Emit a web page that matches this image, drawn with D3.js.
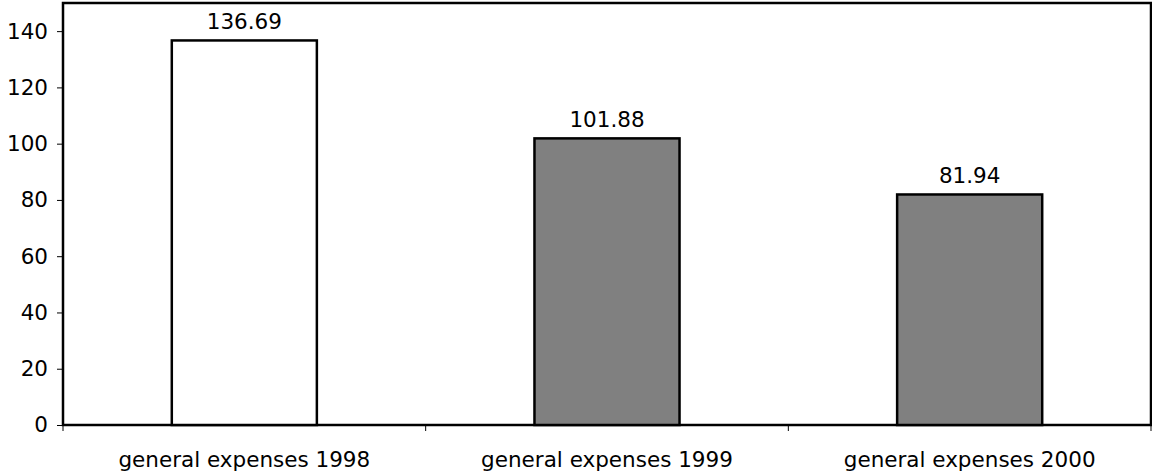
<!DOCTYPE html>
<html>
<head>
<meta charset="UTF-8">
<title>general expenses</title>
<script src="https://cdn.jsdelivr.net/npm/d3@7"></script>
<style>
  body { margin: 0; background: #fff; }
  text { font-family: "DejaVu Sans", Verdana, sans-serif; font-size: 21.5px; fill: #000; }
</style>
</head>
<body>
<div id="app"></div>
<script>
    var categories = ['general expenses 1998', 'general expenses 1999', 'general expenses 2000'];
    var values = [136.69, 101.88, 81.94];
    var fills = ['#ffffff', '#808080', '#808080'];
    var yTicks = [0, 20, 40, 60, 80, 100, 120, 140];

    var width = 1152, height = 474;
    var mLeft = 63, mRight = 1151, mTop = 3, mBottom = 425;

    var svg = d3.select('#app').append('svg')
        .attr('width', width)
        .attr('height', height);

    var x = d3.scaleBand().domain(categories).range([mLeft, mRight]).paddingInner(0.6).paddingOuter(0.3);
    var y = d3.scaleLinear().domain([0, 150]).range([mBottom, mTop]);

    // frame
    svg.append('rect')
        .attr('x', mLeft).attr('y', mTop)
        .attr('width', mRight - mLeft).attr('height', mBottom - mTop)
        .attr('fill', 'none').attr('stroke', '#000').attr('stroke-width', 2.5);

    // y axis
    var yAxis = svg.append('g')
        .attr('transform', 'translate(' + mLeft + ',0)')
        .call(d3.axisLeft(y).tickValues(yTicks).tickSize(6).tickPadding(9));
    yAxis.select('.domain').remove();
    yAxis.selectAll('text').style('font-size', '21.5px').style('font-family', '"DejaVu Sans", Verdana, sans-serif');

    // x axis ticks at category boundaries
    var bounds = [mLeft].concat(categories.map(function(c, i){
        return mLeft + (mRight - mLeft) * (i + 1) / categories.length;
    }));
    svg.selectAll('.xtick').data(bounds).enter().append('line')
        .attr('x1', function(d){ return d; }).attr('x2', function(d){ return d; })
        .attr('y1', mBottom).attr('y2', mBottom + 6)
        .attr('stroke', '#000').attr('stroke-width', 1);

    svg.selectAll('.xlab').data(categories).enter().append('text')
        .attr('x', function(d){ return x(d) + x.bandwidth() / 2; })
        .attr('y', 467)
        .attr('text-anchor', 'middle')
        .text(function(d){ return d; });

    // bars
    svg.selectAll('.bar').data(values).enter().append('rect')
        .attr('x', function(d, i){ return x(categories[i]); })
        .attr('y', function(d){ return y(d); })
        .attr('width', x.bandwidth())
        .attr('height', function(d){ return mBottom - y(d); })
        .attr('fill', function(d, i){ return fills[i]; })
        .attr('stroke', '#000').attr('stroke-width', 2.5);

    svg.selectAll('.val').data(values).enter().append('text')
        .attr('x', function(d, i){ return x(categories[i]) + x.bandwidth() / 2; })
        .attr('y', function(d){ return y(d) - 11; })
        .attr('text-anchor', 'middle')
        .text(function(d){ return d.toFixed(2); });
</script>
</body>
</html>
